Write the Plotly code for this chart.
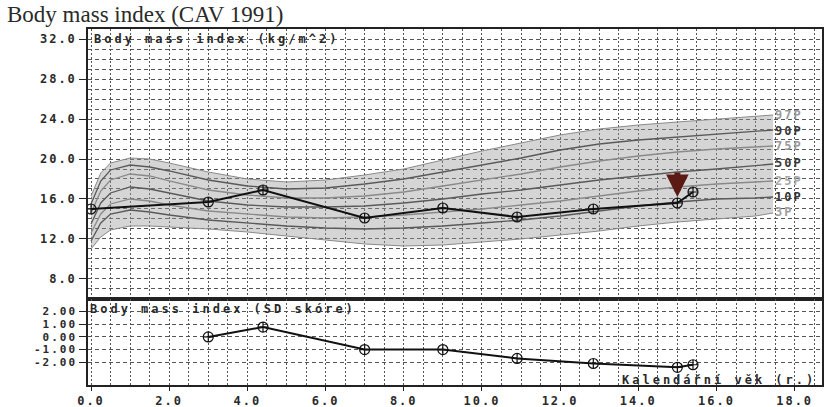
import plotly.graph_objects as go

# ---- data ----
ages = [0, 0.25, 0.5, 1, 1.5, 2, 3, 4, 5, 6, 7, 8, 9, 10, 11, 12, 13, 14, 15, 16, 17, 17.45]
p97 = [16.3, 18.6, 19.6, 20.1, 20.0, 19.6, 18.7, 18.0, 17.7, 17.9, 18.4, 19.0, 19.9, 20.8, 21.6, 22.4, 23.0, 23.4, 23.7, 24.0, 24.3, 24.4]
p90 = [15.5, 17.8, 18.9, 19.4, 19.2, 18.8, 17.9, 17.3, 17.0, 17.1, 17.5, 18.0, 18.7, 19.4, 20.1, 20.9, 21.5, 21.9, 22.2, 22.5, 22.8, 22.9]
p75 = [14.6, 16.8, 17.9, 18.5, 18.3, 17.8, 16.9, 16.4, 16.1, 16.1, 16.3, 16.7, 17.3, 17.9, 18.5, 19.2, 19.8, 20.3, 20.7, 21.0, 21.2, 21.3]
p50 = [13.5, 15.6, 16.6, 17.2, 17.0, 16.6, 15.8, 15.4, 15.2, 15.2, 15.3, 15.6, 16.0, 16.5, 16.9, 17.4, 17.9, 18.3, 18.7, 19.0, 19.3, 19.5]
p25 = [12.6, 14.5, 15.5, 16.0, 15.8, 15.4, 14.8, 14.5, 14.2, 14.1, 14.2, 14.4, 14.7, 15.0, 15.4, 15.8, 16.3, 16.8, 17.2, 17.5, 17.7, 17.8]
p10 = [11.8, 13.6, 14.5, 14.9, 14.7, 14.4, 13.9, 13.6, 13.3, 13.1, 13.0, 13.1, 13.3, 13.6, 13.9, 14.3, 14.8, 15.3, 15.7, 16.0, 16.1, 16.2]
p3 = [11.0, 12.2, 12.9, 13.3, 13.3, 13.2, 13.0, 12.7, 12.3, 11.9, 11.5, 11.3, 11.4, 11.7, 12.0, 12.4, 12.8, 13.3, 13.7, 14.0, 14.3, 14.6]

visit_age = [0.0, 3.0, 4.4, 7.0, 9.0, 10.9, 12.85, 15.0, 15.4]
visit_bmi = [15.0, 15.7, 16.9, 14.1, 15.1, 14.2, 15.0, 15.6, 16.7]

sd_age = [3.0, 4.4, 7.0, 9.0, 10.9, 12.85, 15.0, 15.4]
sd_score = [0.0, 0.78, -1.0, -1.0, -1.7, -2.1, -2.4, -2.2]

pct_names = ["97P", "90P", "75P", "50P", "25P", "10P", "3P"]
pct_end = [24.4, 22.8, 21.3, 19.6, 17.8, 16.2, 14.7]
pct_colors = ["#9a9a9a", "#3a3a3a", "#9a9a9a", "#3a3a3a", "#a8a8a8", "#333333", "#a0a0a0"]
pct_line_colors = ["#8a8a8a", "#5a5a5a", "#8a8a8a", "#5a5a5a", "#8a8a8a", "#5a5a5a", "#8a8a8a"]

bmi_ticks = [8, 12, 16, 20, 24, 28, 32]
bmi_tick_text = ["8.0", "12.0", "16.0", "20.0", "24.0", "28.0", "32.0"]
sd_ticks = [-2, -1, 0, 1, 2]
sd_tick_text = ["-2.00", "-1.00", "0.00", "1.00", "2.00"]
age_ticks = [0, 2, 4, 6, 8, 10, 12, 14, 16, 18]
age_tick_text = ["0.0", "2.0", "4.0", "6.0", "8.0", "10.0", "12.0", "14.0", "16.0", "18.0"]

MONO = "DejaVu Sans Mono"


def sp(t, ls=3):
    return '<span style="letter-spacing:%dpx">%s</span>' % (ls, t)


fig = go.Figure()

# shaded band 3P..97P
fig.add_trace(go.Scatter(x=ages, y=p3, mode="lines", line=dict(color="#8a8a8a", width=1),
                         hoverinfo="skip", showlegend=False, xaxis="x", yaxis="y"))
fig.add_trace(go.Scatter(x=ages, y=p97, mode="lines", line=dict(color="#8a8a8a", width=1),
                         fill="tonexty", fillcolor="rgba(150,150,150,0.40)",
                         hoverinfo="skip", showlegend=False, xaxis="x", yaxis="y"))
for vals, col in zip([p90, p75, p50, p25, p10], pct_line_colors[1:6]):
    fig.add_trace(go.Scatter(x=ages, y=vals, mode="lines", line=dict(color=col, width=1.3),
                             hoverinfo="skip", showlegend=False, xaxis="x", yaxis="y"))

marker = dict(symbol="circle-cross-open", size=10, color="#111111", line=dict(width=1.2, color="#111111"))
fig.add_trace(go.Scatter(x=visit_age, y=visit_bmi, mode="lines+markers",
                         line=dict(color="#111111", width=2), marker=marker,
                         showlegend=False, xaxis="x", yaxis="y"))
fig.add_trace(go.Scatter(x=sd_age, y=sd_score, mode="lines+markers",
                         line=dict(color="#111111", width=2), marker=marker,
                         showlegend=False, xaxis="x2", yaxis="y2"))

grid_h = dict(showgrid=True, gridcolor="#555555", gridwidth=1, griddash="4px,3px")
grid_v = dict(showgrid=True, gridcolor="#555555", gridwidth=1, griddash="2px,2px")
tickfont = dict(family=MONO, size=12, color="#2a2a2a", weight="bold")
tickfont_sd = dict(family=MONO, size=11, color="#2a2a2a", weight="bold")

xr = [-0.077, 18.70]
split = 0.2416

fig.update_layout(
    width=833, height=407,
    margin=dict(l=88, r=11, t=29, b=22, autoexpand=False),
    paper_bgcolor="white", plot_bgcolor="white",
    showlegend=False,
    xaxis=dict(domain=[0, 1], anchor="y", range=xr, showticklabels=False, ticks="",
               dtick=2, tick0=0, showline=True, linecolor="#222222", linewidth=1.5, mirror=True,
               zeroline=False, automargin=False, minor=dict(dtick=0.5, **grid_v), **grid_v),
    yaxis=dict(domain=[split, 1], anchor="x", range=[6, 33], tickmode="array",
               tickvals=bmi_ticks, ticktext=[sp(t, 2) for t in bmi_tick_text],
               ticks="outside", ticklen=7, tickcolor="#222222", tickfont=tickfont,
               showline=True, linecolor="#222222", linewidth=1.5, mirror=True, zeroline=False,
               automargin=False, minor=dict(dtick=1, tick0=0, **grid_h), **grid_h),
    xaxis2=dict(domain=[0, 1], anchor="y2", range=xr, tickmode="array",
                tickvals=age_ticks, ticktext=[sp(t, 2) for t in age_tick_text],
                ticks="outside", ticklen=4, tickcolor="#222222", tickfont=tickfont,
                showline=True, linecolor="#222222", linewidth=1.5, mirror=True, zeroline=False,
                automargin=False, minor=dict(dtick=0.5, tick0=0, **grid_v), **grid_v),
    yaxis2=dict(domain=[0, split], anchor="x2", range=[-3.8, 3], tickmode="array",
                tickvals=sd_ticks, ticktext=[sp(t, 2) for t in sd_tick_text],
                ticks="outside", ticklen=7, tickcolor="#222222", tickfont=tickfont_sd,
                showline=True, linecolor="#222222", linewidth=1.5, mirror=True, zeroline=False,
                automargin=False, **grid_h),
)

annotations = [
    dict(text="Body mass index (CAV 1991)", xref="paper", yref="paper", x=-83 / 734, y=1,
         xanchor="left", yanchor="bottom", yshift=0, showarrow=False,
         font=dict(family="Liberation Serif", size=23, color="#2a2a2a")),
    dict(text=sp("Body mass index (kg/m^2)", 3), xref="paper", yref="paper", x=0.005, y=1,
         xanchor="left", yanchor="top", yshift=-1, showarrow=False,
         font=dict(family=MONO, size=12, color="#2a2a2a", weight="bold")),
    dict(text=sp("Body mass index (SD skóre)", 3), xref="paper", yref="paper", x=0.0, y=split,
         xanchor="left", yanchor="top", yshift=-1, showarrow=False,
         font=dict(family=MONO, size=12, color="#2a2a2a", weight="bold")),
    dict(text=sp("Kalendářní věk (r.)", 3), xref="paper", yref="paper", x=0.995, y=0,
         xanchor="right", yanchor="bottom", yshift=-4, showarrow=False,
         font=dict(family=MONO, size=12, color="#2a2a2a", weight="bold")),
    dict(text="", x=15.0, y=16.2, xref="x", yref="y", ax=0, ay=-26, showarrow=True,
         arrowhead=2, arrowwidth=6, arrowsize=0.75, arrowcolor="#5b1a14"),
]
for name, val, col in zip(pct_names, pct_end, pct_colors):
    annotations.append(dict(text=sp(name, 2), x=17.45, y=val, xref="x", yref="y",
                            xanchor="left", yanchor="middle", showarrow=False,
                            font=dict(family=MONO, size=12, color=col, weight="bold")))
fig.update_layout(annotations=annotations)

fig.write_html("out.html")
